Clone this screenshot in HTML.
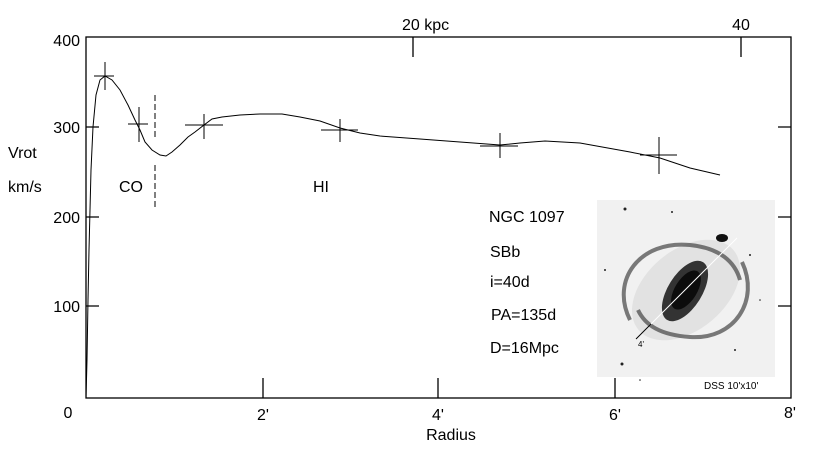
<!DOCTYPE html>
<html><head><meta charset="utf-8"><style>
html,body{margin:0;padding:0;background:#fff;}
svg{display:block;font-family:"Liberation Sans",Arial,sans-serif;}
</style></head><body>
<svg width="840" height="450" viewBox="0 0 840 450" xmlns="http://www.w3.org/2000/svg">
<rect width="840" height="450" fill="#fff"/>
<g stroke="#000" stroke-width="1.3" fill="none">
<rect x="86" y="37" width="705" height="361"/>
<path d="M86 127H99M86 217H99M86 306H99"/>
<path d="M778 127H791M778 217H791M778 306H791"/>
<path d="M263 378V398M438 378V398M615 378V398"/>
<path d="M413 37V57M741 37V57"/>
</g>
<g>
<rect x="597" y="200" width="178" height="177" fill="#f1f1f1"/>
<ellipse cx="686" cy="290" rx="62" ry="40" transform="rotate(-40 686 290)" fill="#e2e2e2"/>
<path d="M630 320 C610 280 640 240 690 245 C720 248 735 262 740 280" fill="none" stroke="#444" stroke-width="4" opacity="0.7"/>
<path d="M742 262 C760 300 735 340 690 337 C660 335 645 325 638 310" fill="none" stroke="#444" stroke-width="4" opacity="0.7"/>
<ellipse cx="685" cy="291" rx="34" ry="17" transform="rotate(-58 685 291)" fill="#333"/>
<ellipse cx="686" cy="290" rx="22" ry="11" transform="rotate(-58 686 290)" fill="#0c0c0c"/>
<ellipse cx="722" cy="238" rx="6" ry="4" fill="#111"/>
<g fill="#222"><circle cx="625" cy="209" r="1.5"/><circle cx="672" cy="212" r="1"/><circle cx="622" cy="364" r="1.5"/><circle cx="735" cy="350" r="1"/><circle cx="605" cy="270" r="1"/><circle cx="750" cy="255" r="1"/><circle cx="640" cy="380" r="0.8"/><circle cx="760" cy="300" r="0.8"/></g>
<line x1="636" y1="339" x2="737" y2="238" stroke="#fff" stroke-width="1"/>
<line x1="636" y1="339" x2="651" y2="324" stroke="#000" stroke-width="1"/>
<text x="638" y="347" font-size="8" fill="#000">4'</text>
</g>
<text x="704" y="389" font-size="10" fill="#000">DSS 10'x10'</text>
<polyline fill="none" stroke="#000" stroke-width="1" points="86,398 87,360 88,300 89,250 91,170 93,127 96,95 100,80 105,76 112,80 120,90 128,105 135,120 140,130 145,142 152,150 160,155 166,156 172,152 180,145 188,137 195,132 204,125 212,119 222,117 240,115 260,114 282,114 300,117 320,121 340,128 360,133 380,136 420,139 460,142 500,145 520,143 545,141 580,143 630,152 660,158 690,168 720,175"/>
<g stroke="#000" stroke-width="1">
<path d="M94 76H114M105 62V90"/>
<path d="M128 124H148M139 107V142"/>
<path d="M185 125H223M204 114V139"/>
<path d="M321 130H358M340 119V142"/>
<path d="M480 146H518M500 133V158"/>
<path d="M640 155H677M659 137V174"/>
<path d="M155 95V138M155 165V207" stroke-dasharray="6,3"/>
</g>
<g font-size="16" fill="#000">
<text x="80" y="46" text-anchor="end">400</text>
<text x="80" y="133" text-anchor="end">300</text>
<text x="80" y="223" text-anchor="end">200</text>
<text x="80" y="312" text-anchor="end">100</text>
<text x="68" y="418" text-anchor="middle">0</text>
<text x="263" y="420" text-anchor="middle">2'</text>
<text x="438" y="420" text-anchor="middle">4'</text>
<text x="615" y="420" text-anchor="middle">6'</text>
<text x="790" y="418" text-anchor="middle">8'</text>
<text x="451" y="440" text-anchor="middle">Radius</text>
<text x="402" y="30">20 kpc</text>
<text x="741" y="30" text-anchor="middle">40</text>
<text x="8" y="158">Vrot</text>
<text x="8" y="192">km/s</text>
<text x="119" y="192">CO</text>
<text x="313" y="192">HI</text>
<text x="489" y="222">NGC 1097</text>
<text x="490" y="257">SBb</text>
<text x="490" y="287">i=40d</text>
<text x="491" y="320">PA=135d</text>
<text x="490" y="353">D=16Mpc</text>
</g>
</svg>
</body></html>
